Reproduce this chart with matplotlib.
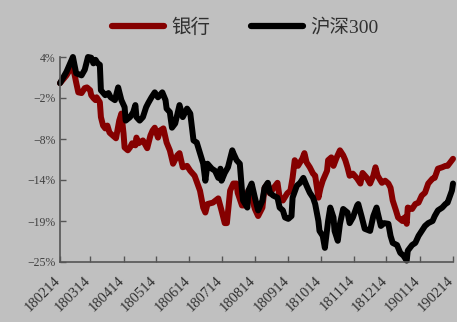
import matplotlib
matplotlib.use("Agg")
import matplotlib.pyplot as plt
import matplotlib.transforms as mtransforms
import numpy as np
import datetime as dt

base = dt.date(2018, 2, 14)

# day offsets from 2018-02-14 and cumulative return (%)
bank_days = [0, 6, 10, 13, 15, 17, 20, 23, 25, 28, 29, 31, 33, 34, 37, 38, 40, 42, 44, 46, 49, 52, 55, 57, 59,
             60, 63, 65, 67, 70, 71, 73, 77, 81, 84, 86, 88, 91, 93, 96, 99, 102, 105, 109, 111, 114, 118, 121,
             125, 130, 133, 135, 137, 142, 147, 150, 153, 155, 158, 161, 164, 165, 169, 172, 175, 178, 181, 184,
             188, 190, 193, 195, 198, 202, 204, 207, 211, 214, 216, 218, 221, 225, 227, 229, 232, 235, 237, 239,
             240, 242, 244, 248, 249, 252, 254, 257, 260, 263, 265, 267, 269, 272, 276, 279, 281, 285, 288, 291,
             293, 295, 299, 302, 305, 307, 309, 312, 314, 318, 320, 322, 323, 327, 330, 333, 336, 339, 342, 346,
             348, 351, 355, 358, 360, 364, 365]
bank_vals = [0.3, 1.4, 2.4, 1.9, 0.4, -1.0, -1.1, -0.4, -0.3, -0.7, -1.4, -1.8, -2.1, -1.7, -2.4, -4.5, -5.7,
             -6.1, -5.7, -6.7, -7.1, -7.5, -5.0, -4.0, -6.8, -8.8, -9.2, -8.8, -8.2, -8.5, -7.4, -8.2, -7.8,
             -8.9, -7.1, -6.4, -6.0, -7.4, -6.4, -6.1, -8.1, -9.2, -11.1, -9.9, -9.6, -11.6, -11.4, -12.1,
             -12.8, -14.9, -17.3, -18.0, -16.8, -16.6, -16.0, -17.7, -19.5, -19.5, -14.9, -13.9, -13.9, -15.2,
             -17.0, -17.0, -14.9, -15.9, -17.5, -18.5, -17.3, -14.5, -13.9, -15.3, -14.6, -13.8, -15.9, -16.3,
             -15.3, -14.9, -13.1, -10.6, -11.4, -10.4, -9.6, -10.9, -11.6, -12.5, -12.8, -14.9, -15.9, -14.5,
             -13.5, -12.1, -10.6, -10.2, -11.4, -10.2, -9.2, -9.9, -10.6, -11.6, -12.8, -12.5, -13.2, -13.9,
             -12.4, -13.1, -13.9, -12.8, -11.6, -12.8, -13.8, -13.5, -13.9, -14.5, -16.3, -17.7, -18.7, -19.2,
             -18.7, -19.6, -17.3, -17.5, -16.8, -16.6, -15.6, -15.2, -13.9, -13.2, -13.1, -11.8, -11.6, -11.4,
             -11.4, -10.6, -10.4]

hs300_days = [0, 6, 12, 15, 20, 23, 26, 29, 31, 33, 35, 37, 38, 42, 45, 47, 51, 54, 57, 60, 61, 65, 68, 70, 71,
              74, 77, 80, 82, 85, 88, 91, 95, 98, 99, 102, 104, 107, 110, 111, 114, 118, 121, 124, 127, 130, 133,
              135, 137, 141, 144, 147, 149, 150, 153, 156, 160, 161, 164, 167, 169, 170, 174, 175, 178, 181, 184,
              188, 190, 193, 195, 198, 202, 204, 207, 209, 212, 215, 216, 220, 223, 226, 229, 232, 235, 237, 240,
              241, 244, 246, 249, 251, 254, 255, 258, 260, 263, 267, 269, 272, 276, 277, 280, 283, 288, 291, 294,
              295, 298, 301, 305, 307, 309, 313, 316, 319, 322, 323, 327, 330, 333, 336, 339, 342, 346, 348, 351,
              355, 358, 360, 364, 365]
hs300_vals = [0.3, 1.9, 4.0, 1.7, 1.4, 2.2, 4.0, 3.9, 3.1, 3.6, 3.1, 2.9, -0.7, -1.4, -1.1, -1.7, -2.1, -0.3,
              -2.1, -3.1, -5.0, -4.5, -3.8, -2.8, -4.5, -5.0, -4.5, -3.1, -2.5, -1.7, -1.0, -1.7, -1.0, -2.1,
              -3.3, -3.8, -6.0, -5.4, -3.5, -2.8, -4.5, -3.3, -4.0, -7.8, -8.1, -9.6, -11.1, -13.5, -11.1, -11.8,
              -12.1, -13.1, -11.8, -13.5, -12.4, -11.6, -9.2, -9.6, -10.6, -11.1, -14.9, -16.3, -17.3, -14.9,
              -13.9, -15.9, -17.7, -16.3, -14.5, -13.8, -15.2, -15.6, -15.9, -17.3, -17.7, -18.7, -18.9, -18.5,
              -15.9, -14.2, -13.8, -13.1, -14.2, -15.2, -15.9, -16.8, -19.2, -20.6, -21.3, -23.0, -19.2, -17.3,
              -18.7, -20.6, -22.0, -19.6, -17.5, -18.0, -19.5, -18.7, -17.0, -16.8, -18.5, -20.3, -20.6, -18.5,
              -17.3, -18.0, -19.9, -19.5, -19.6, -21.3, -22.3, -22.6, -23.7, -24.1, -24.8, -23.4, -22.6, -22.3,
              -21.3, -20.6, -19.9, -19.5, -19.2, -18.5, -17.7, -17.3, -16.8, -16.6, -14.9, -13.9]

series_names = ["银行", "沪深300"]
series_colors = ["#850000", "#000000"]

x_tick_labels = ["180214", "180314", "180414", "180514", "180614", "180714", "180814",
                 "180914", "181014", "181114", "181214", "190114", "190214"]
y_tick_labels = ["4%", "-2%", "-8%", "-14%", "-19%", "-25%"]
y_top, y_bottom = 4, -25

def to_dates(days):
    return [base + dt.timedelta(days=int(d)) for d in days]

bg = "#c0c0c0"
fig = plt.figure(figsize=(4.57, 3.22), dpi=100, facecolor=bg)
ax = fig.add_axes([60 / 457, 60 / 322, 393 / 457, 205 / 322], facecolor=bg)

for days, vals, name, col in [(bank_days, bank_vals, series_names[0], series_colors[0]),
                              (hs300_days, hs300_vals, series_names[1], series_colors[1])]:
    ax.plot(to_dates(days), vals, color=col, lw=4.3, label=name, clip_on=False,
            solid_joinstyle="round", solid_capstyle="round")

xt = [dt.date(2018 + (1 + i) // 12, (1 + i) % 12 + 1, 14) for i in range(len(x_tick_labels))]
ax.set_xticks(xt)
ax.set_xticklabels([])
ax.set_xlim(base, base + dt.timedelta(days=365))
lab_tr = ax.get_xaxis_transform() + mtransforms.ScaledTranslation(-6 / 100, -12 / 100, fig.dpi_scale_trans)
for d, s in zip(xt, x_tick_labels):
    ax.text(d, 0, s, transform=lab_tr, rotation=45, ha="right", va="top", rotation_mode="anchor",
            fontsize=10.5, family="Liberation Serif", color="#303030", clip_on=False)

yt = np.linspace(y_top, y_bottom, len(y_tick_labels))
ax.set_yticks(yt)
ax.set_yticklabels([s.replace("-", "\u2212") for s in y_tick_labels], fontsize=8.5,
                   family="Liberation Serif", color="#404040")
ax.set_ylim(y_bottom, y_top)

for s in ["top", "right"]:
    ax.spines[s].set_visible(False)
for s in ["left", "bottom"]:
    ax.spines[s].set_color("#555555")
    ax.spines[s].set_linewidth(1.2)
ax.tick_params(axis="both", direction="in", length=4, width=1, color="#555555")
ax.tick_params(axis="y", pad=3)

leg = fig.legend(loc="center", bbox_to_anchor=(0.536, 0.914), ncol=2, frameon=False,
                 prop={"family": ["Liberation Serif", "Noto Sans CJK SC"], "size": 14},
                 handlelength=2.7, columnspacing=2.1, handletextpad=0.35)
for t in leg.get_texts():
    t.set_color("#303030")
for l in leg.get_lines():
    l.set_linewidth(4.5)

fig.savefig("out.png", dpi=100, facecolor=bg)
